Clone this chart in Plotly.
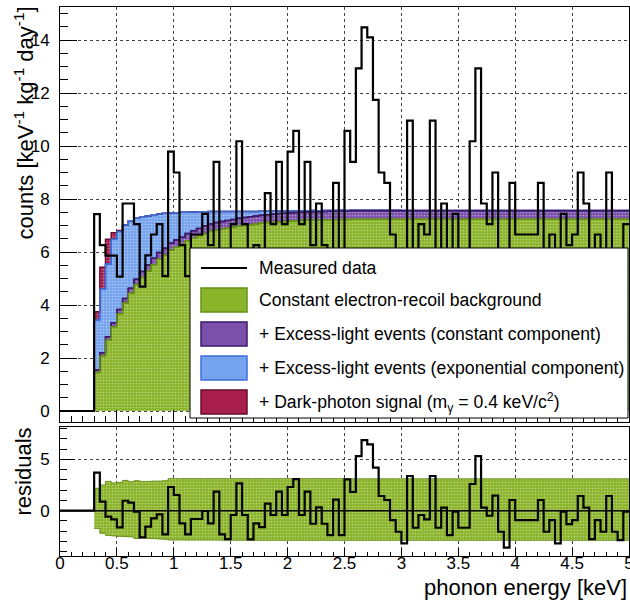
import plotly.graph_objects as go

# ---------------- data ----------------
BIN_START = 0.30
BIN_WIDTH = 0.05

measured = [
    7.43, 6.26, 5.86, 5.86, 5.07, 7.83, 7.83, 7.05, 4.69, 5.87, 6.66, 7.05, 5.09, 9.79,
    9.00, 6.26, 5.09, 6.66, 6.66, 7.44, 6.26, 9.40, 5.09, 4.70, 7.05, 10.18, 7.05, 4.70, 6.26, 5.87,
    8.22, 7.05, 9.40, 7.05,
    9.79, 10.57, 7.05, 9.40, 6.26, 7.83, 6.26, 5.09, 8.61, 5.09, 10.57, 9.40, 12.93, 14.48, 14.10, 11.74,
    9.00, 8.61, 6.66, 5.48,
    4.31, 10.96, 5.87, 7.05, 6.66, 10.96, 5.87, 7.83, 5.09, 7.44, 5.87, 5.87, 10.18, 12.93, 7.83, 7.05,
    9.00, 5.48, 3.92, 8.61,
    6.66, 6.66, 6.66, 6.66, 8.61, 5.48, 6.66, 4.31, 7.44, 6.26, 6.66, 9.00, 7.83, 4.70, 6.66, 5.48,
    9.00, 5.48, 4.70, 7.05,
]

residuals = [
    3.70, 0.88, -0.58, -0.84, -1.62, 0.97, 0.78, -0.10, -2.60, -1.56, -0.75, -0.36, -2.31, 2.31,
    1.53, -1.23, -2.31, -0.81, -0.81, -0.03, -1.23, 1.85, -2.31, -2.76, -0.42, 2.66, -0.42, -2.79, -1.23, -1.59,
    0.68, -0.42, 1.85, -0.42,
    2.31, 3.08, -0.42, 1.85, -1.27, 0.32, -1.27, -2.37, 1.07, -2.37, 3.05, 1.82, 5.32, 6.88, 6.46, 4.19,
    1.43, 1.04, -0.91, -2.05,
    -3.18, 3.38, -1.66, -0.42, -0.84, 3.38, -1.66, 0.29, -2.37, -0.10, -1.66, -1.66, 2.60, 5.32, 0.29, -0.49,
    1.46, -2.05, -3.60, 1.04,
    -0.91, -0.91, -0.91, -0.91, 1.04, -2.05, -0.91, -3.18, -0.10, -1.30, -0.91, 1.43, 0.29, -2.76, -0.91, -2.05,
    1.43, -2.05, -2.86, -0.10,
]

# constant electron-recoil background (green)
background = [
    1.45, 2.08, 2.67, 3.18, 3.67, 4.07, 4.44, 4.77, 5.04, 5.28, 5.52, 5.73, 5.89, 6.07,
    6.18, 6.29, 6.42, 6.52, 6.61, 6.69, 6.77, 6.82, 6.86, 6.90, 6.93, 6.97, 7.00, 7.03, 7.06, 7.09,
    7.11, 7.12, 7.14, 7.15,
    7.17, 7.18, 7.19, 7.20, 7.20, 7.21, 7.21, 7.22, 7.22, 7.23, 7.23, 7.24, 7.24, 7.24, 7.24, 7.24,
    7.24, 7.24, 7.24, 7.24,
    7.24, 7.24, 7.24, 7.24, 7.24, 7.24, 7.24, 7.24, 7.24, 7.24, 7.24, 7.24, 7.24, 7.24, 7.24, 7.24,
    7.24, 7.24, 7.24, 7.24,
    7.24, 7.24, 7.24, 7.24, 7.24, 7.24, 7.24, 7.24, 7.24, 7.24, 7.24, 7.24, 7.24, 7.24, 7.24, 7.24,
    7.24, 7.24, 7.24, 7.24,
]

# excess-light events, constant component (purple)
excess_const = [
    0.10, 0.12, 0.13, 0.15, 0.16, 0.18, 0.19, 0.20, 0.22, 0.23, 0.24, 0.25, 0.25, 0.26,
    0.27, 0.27, 0.28, 0.28, 0.28, 0.29, 0.29, 0.29, 0.29, 0.29, 0.30, 0.30, 0.30, 0.30, 0.30, 0.30,
    0.30, 0.31, 0.31, 0.31,
    0.31, 0.31, 0.31, 0.31, 0.32, 0.31, 0.32, 0.32, 0.32, 0.32, 0.32, 0.32, 0.32, 0.32, 0.32, 0.32,
    0.32, 0.32, 0.32, 0.32,
    0.32, 0.32, 0.32, 0.32, 0.32, 0.32, 0.32, 0.32, 0.32, 0.32, 0.32, 0.32, 0.32, 0.32, 0.32, 0.32,
    0.32, 0.32, 0.32, 0.32,
    0.32, 0.32, 0.32, 0.32, 0.32, 0.32, 0.32, 0.32, 0.32, 0.32, 0.32, 0.32, 0.32, 0.32, 0.32, 0.32,
    0.32, 0.32, 0.32, 0.32,
]

# excess-light events, exponential component (blue)
excess_exp = [
    1.88, 2.39, 2.75, 3.15, 2.94, 2.77, 2.55, 2.30, 2.05, 1.85, 1.63, 1.45, 1.32, 1.14,
    1.03, 0.94, 0.80, 0.71, 0.63, 0.54, 0.47, 0.42, 0.38, 0.34, 0.30, 0.26, 0.23, 0.20, 0.17, 0.15,
    0.13, 0.11, 0.10, 0.09,
    0.08, 0.07, 0.06, 0.05, 0.05, 0.04, 0.04, 0.03, 0.03, 0.03, 0.02, 0.02, 0.02, 0.02, 0.02, 0.02,
    0.02, 0.02, 0.02, 0.02,
    0.01, 0.01, 0.01, 0.01, 0.01, 0.01, 0.01, 0.01, 0.01, 0.01, 0.01, 0.01, 0.01, 0.01, 0.01, 0.01,
    0.01, 0.01, 0.01, 0.01,
    0.01, 0.01, 0.01, 0.01, 0.01, 0.01, 0.01, 0.01, 0.01, 0.01, 0.01, 0.01, 0.01, 0.01, 0.01, 0.01,
    0.01, 0.01, 0.01, 0.01,
]

# dark-photon signal (red)
dark_photon = [0.32, 0.83, 0.93, 0.25, 0.04] + [0.0] * 89

# residual uncertainty band (green, bottom pad)
band_upper = [
    2.18, 2.50, 2.85, 2.70, 2.75, 2.95, 2.82, 2.92, 2.85, 2.85, 2.88, 2.88, 2.92, 3.12,
    3.12, 3.12, 3.12, 3.12, 3.12, 3.12, 3.12, 3.12, 3.12, 3.12, 3.12, 3.12, 3.12, 3.12, 3.12, 3.12,
    3.12, 3.12, 3.12, 3.12,
    3.12, 3.12, 3.12, 3.12, 3.12, 3.12, 3.12, 3.12, 3.12, 3.12, 3.10, 3.10, 3.10, 3.10, 3.10, 3.10,
    3.10, 3.10, 3.10, 3.10,
    3.10, 3.10, 3.10, 3.10, 3.10, 3.10, 3.10, 3.10, 3.10, 3.10, 3.10, 3.10, 3.10, 3.10, 3.10, 3.10,
    3.10, 3.10, 3.10, 3.10,
    3.10, 3.10, 3.10, 3.10, 3.10, 3.10, 3.10, 3.10, 3.10, 3.10, 3.10, 3.10, 3.10, 3.10, 3.10, 3.10,
    3.10, 3.10, 3.10, 3.10,
]
band_lower = [
    -1.72, -2.20, -2.40, -2.45, -2.50, -2.52, -2.55, -2.70, -2.65, -2.70, -2.72, -2.75, -2.78, -2.85,
    -2.85, -2.85, -2.86, -2.86, -2.86, -2.86, -2.86, -2.86, -2.87, -2.87, -2.87, -2.87, -2.87, -2.87, -2.88, -2.88,
    -2.88, -2.88, -2.88, -2.88,
    -2.88, -2.88, -2.88, -2.88, -2.88, -2.88, -2.88, -2.88, -2.88, -2.88, -2.88, -2.88, -2.88, -2.88, -2.88, -2.88,
    -2.88, -2.88, -2.88, -2.88,
    -2.88, -2.88, -2.88, -2.88, -2.88, -2.88, -2.88, -2.88, -2.88, -2.88, -2.88, -2.88, -2.88, -2.88, -2.88, -2.88,
    -2.88, -2.88, -2.88, -2.88,
    -2.88, -2.88, -2.88, -2.88, -2.88, -2.88, -2.88, -2.88, -2.88, -2.88, -2.88, -2.88, -2.88, -2.88, -2.88, -2.88,
    -2.88, -2.88, -2.88, -2.88,
]

legend_labels = [
    "Measured data",
    "Constant electron-recoil background",
    "+ Excess-light events (constant component)",
    "+ Excess-light events (exponential component)",
    "+ Dark-photon signal (m<sub>γ</sub> = 0.4 keV/c<sup>2</sup>)",
]

X_RANGE = [0, 5]
X_TICKS = [0, 0.5, 1, 1.5, 2, 2.5, 3, 3.5, 4, 4.5, 5]
X_TICKTEXT = ["0", "0.5", "1", "1.5", "2", "2.5", "3", "3.5", "4", "4.5", "5"]

# ---------------- styling ----------------
FONT = "Liberation Sans, Arial, sans-serif"
GREEN_FILL, GREEN_LINE = "#8ab42a", "#669016"
PURPLE_FILL, PURPLE_LINE = "#7b50ab", "#3e1868"
BLUE_FILL, BLUE_LINE = "#76a3ee", "#3c70d8"
RED_FILL, RED_LINE = "#a81f4e", "#6a0b2d"

W, H = 630, 601
ML, MR, MT, MB = 60, 1, 7, 45
PW, PH = W - ML - MR, H - MT - MB


def px(xs):
    return (xs - ML) / PW


def py(ys):
    return (H - MB - ys) / PH


n = len(measured)
edges = [round(BIN_START + i * BIN_WIDTH, 4) for i in range(n + 1)]


def step(vals):
    xs = [BIN_START] + edges
    ys = [0.0] + list(vals) + [vals[-1]]
    return xs, ys


def cumulate(*layers):
    return [round(sum(v), 4) for v in zip(*layers)]


cum1 = cumulate(background)
cum2 = cumulate(background, excess_const)
cum3 = cumulate(background, excess_const, excess_exp)
cum4 = cumulate(background, excess_const, excess_exp, dark_photon)


def pattern(c):
    return dict(shape=".", bgcolor=c, fgcolor="rgba(255,255,255,0.4)", size=3, solidity=0.25)


fig = go.Figure()

# baseline for the stacked fills
fig.add_trace(go.Scatter(x=[BIN_START, edges[-1]], y=[0, 0], mode="lines",
                         line=dict(width=0, color="rgba(0,0,0,0)"), showlegend=False,
                         hoverinfo="skip", xaxis="x", yaxis="y"))

for vals, fillc, linec in [(cum1, GREEN_FILL, GREEN_LINE), (cum2, PURPLE_FILL, PURPLE_LINE),
                           (cum3, BLUE_FILL, BLUE_LINE), (cum4, RED_FILL, RED_LINE)]:
    xs, ys = step(vals)
    fig.add_trace(go.Scatter(
        x=xs, y=ys, mode="lines", line=dict(shape="hv", color=linec, width=1.5),
        fill="tonexty", fillcolor=fillc, fillpattern=pattern(fillc),
        showlegend=False, hoverinfo="skip", xaxis="x", yaxis="y"))

# redraw outlines of lower layers on top (visible edges)
for vals, linec in [(cum3, BLUE_LINE), (cum2, PURPLE_LINE), (cum1, GREEN_LINE)]:
    xs, ys = step(vals)
    fig.add_trace(go.Scatter(x=xs, y=ys, mode="lines", line=dict(shape="hv", color=linec, width=1.5),
                             showlegend=False, hoverinfo="skip", xaxis="x", yaxis="y"))

# measured data
mx = [X_RANGE[0]] + edges
my = [0.0] + measured + [measured[-1]]
fig.add_trace(go.Scatter(x=mx, y=my, mode="lines", line=dict(shape="hv", color="black", width=2.2),
                         showlegend=False, hoverinfo="skip", xaxis="x", yaxis="y"))

# ---------------- residual pad ----------------
bxl, byl = step(band_lower)
bxu, byu = step(band_upper)
fig.add_trace(go.Scatter(x=bxl[1:], y=byl[1:], mode="lines", line=dict(shape="hv", color=GREEN_LINE, width=1),
                         showlegend=False, hoverinfo="skip", xaxis="x2", yaxis="y2"))
fig.add_trace(go.Scatter(
    x=bxu[1:], y=byu[1:], mode="lines", line=dict(shape="hv", color=GREEN_LINE, width=1),
    fill="tonexty", fillcolor=GREEN_FILL, fillpattern=pattern(GREEN_FILL),
    showlegend=False, hoverinfo="skip", xaxis="x2", yaxis="y2"))
fig.add_trace(go.Scatter(x=X_RANGE, y=[0, 0], mode="lines", line=dict(color="black", width=1.5),
                         showlegend=False, hoverinfo="skip", xaxis="x2", yaxis="y2"))
rx = [X_RANGE[0]] + edges
ry = [0.0] + residuals + [residuals[-1]]
fig.add_trace(go.Scatter(x=rx, y=ry, mode="lines", line=dict(shape="hv", color="black", width=2.2),
                         showlegend=False, hoverinfo="skip", xaxis="x2", yaxis="y2"))

# ---------------- axes ----------------
axis_common = dict(showline=True, linecolor="black", linewidth=1, mirror=True, automargin=False,
                   ticks="inside", tickcolor="black", tickwidth=1,
                   showgrid=True, gridcolor="#444", griddash="dot", gridwidth=1,
                   zeroline=False, tickfont=dict(family=FONT, size=17, color="black"))

Y0_TOP, PX_PER_UNIT_TOP = 411, 26.5
Y0_RES, PX_PER_UNIT_RES = 510.7, 10.27

fig.update_layout(
    template="none",
    width=W, height=H, margin=dict(l=ML, r=MR, t=MT, b=MB, pad=0, autoexpand=False),
    paper_bgcolor="white", plot_bgcolor="white", showlegend=False,
    font=dict(family=FONT, size=17, color="black"),
    xaxis=dict(axis_common, range=X_RANGE, domain=[0, 1], anchor="y", tickvals=X_TICKS,
               showticklabels=False, ticklen=12,
               minor=dict(dtick=0.1, ticks="inside", ticklen=6, tickcolor="black", showgrid=False)),
    yaxis=dict(axis_common,
               range=[-(422 - Y0_TOP) / PX_PER_UNIT_TOP, (Y0_TOP - MT) / PX_PER_UNIT_TOP],
               domain=[py(422), 1],
               anchor="x", tick0=0, dtick=2, ticklen=17, ticklabelstandoff=6,
               minor=dict(dtick=0.5, ticks="inside", ticklen=8, tickcolor="black", showgrid=False)),
    xaxis2=dict(axis_common, range=X_RANGE, domain=[0, 1], anchor="y2", tickvals=X_TICKS,
                ticktext=X_TICKTEXT, ticklen=8, ticklabelstandoff=-8, ticklabeloverflow="allow",
                minor=dict(dtick=0.1, ticks="inside", ticklen=4, tickcolor="black", showgrid=False)),
    yaxis2=dict(axis_common,
                range=[-(556 - Y0_RES) / PX_PER_UNIT_RES, (Y0_RES - 427) / PX_PER_UNIT_RES],
                domain=[0, py(427)],
                anchor="x2", tick0=0, dtick=5, ticklen=15, ticklabelstandoff=6,
                minor=dict(dtick=1, ticks="inside", ticklen=7, tickcolor="black", showgrid=False)),
)

# ---------------- manual legend ----------------
shapes = [dict(type="rect", xref="paper", yref="paper", x0=px(190), x1=px(628), y0=py(418), y1=py(248),
               fillcolor="white", line=dict(color="black", width=1), layer="above")]
shapes.append(dict(type="line", xref="paper", yref="paper", x0=px(201), x1=px(247), y0=py(268), y1=py(268),
                   line=dict(color="black", width=2), layer="above"))
sw = [(300, GREEN_FILL, GREEN_LINE), (334, PURPLE_FILL, PURPLE_LINE), (368, BLUE_FILL, BLUE_LINE),
      (402, RED_FILL, RED_LINE)]
for yc, fc, lc in sw:
    shapes.append(dict(type="rect", xref="paper", yref="paper", x0=px(201), x1=px(247),
                       y0=py(yc + 12), y1=py(yc - 12), fillcolor=fc, line=dict(color=lc, width=1.5),
                       layer="above"))
fig.update_layout(shapes=shapes)

annotations = []
for label, yc in zip(legend_labels, [268, 300, 334, 368, 402]):
    annotations.append(dict(xref="paper", yref="paper", x=px(257), y=py(yc), text=label, showarrow=False,
                            xanchor="left", yanchor="middle", font=dict(family=FONT, size=17.6, color="black")))

annotations.append(dict(xref="paper", yref="paper", x=px(629), y=py(573), text="phonon energy [keV]",
                        showarrow=False, xanchor="right", yanchor="top",
                        font=dict(family=FONT, size=22, color="black")))
annotations.append(dict(xref="paper", yref="paper", x=px(8), y=py(5),
                        text="counts [keV<sup>-1</sup> kg<sup>-1</sup> day<sup>-1</sup>]",
                        showarrow=False, textangle=-90, xanchor="left", yanchor="top",
                        font=dict(family=FONT, size=22, color="black")))
annotations.append(dict(xref="paper", yref="paper", x=px(8), y=py(425), text="residuals",
                        showarrow=False, textangle=-90, xanchor="left", yanchor="top",
                        font=dict(family=FONT, size=22, color="black")))
fig.update_layout(annotations=annotations)

# the page's default 8 px body margin would push the 630x601 figure off-screen
fig.write_html("out.html", config={"displayModeBar": False},
               post_script="document.documentElement.style.overflow='hidden';"
                           "document.body.style.margin='0';document.body.style.overflow='hidden';")
